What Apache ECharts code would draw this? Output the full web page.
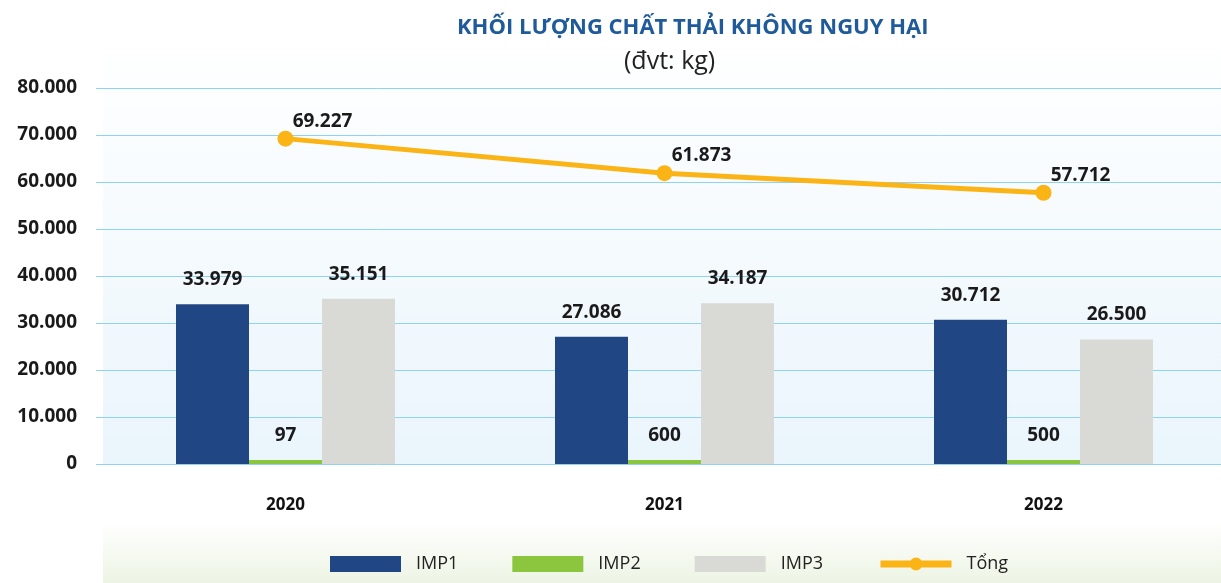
<!DOCTYPE html>
<html>
<head>
<meta charset="utf-8">
<style>
 html, body { margin: 0; padding: 0; background: #ffffff; }
 #chart { width: 1221px; height: 583px; }
</style>
<script src="https://cdn.jsdelivr.net/npm/echarts@6/dist/echarts.min.js"></script>
</head>
<body>
<div id="chart"></div>
<script>
 // du lieu
 var years = ['2020', '2021', '2022'];
 var imp1 = [33979, 27086, 30712];
 var imp2 = [97, 600, 500];
 var imp3 = [35151, 34187, 26500];
 var tong = [69227, 61873, 57712];

 var fmt = function (v) {
     return String(v).replace(/\B(?=(\d{3})+(?!\d))/g, '.');
 };

 var barLabel = {
     show: true,
     position: 'top',
     distance: 15,
     color: '#1a1a1a',
     fontFamily: 'Open Sans',
     fontWeight: 'bold',
     fontSize: 19,
     formatter: function (d) { return fmt(d.value); }
 };

 var chart = echarts.init(document.getElementById('chart'));
 chart.setOption({
     animation: false,
     graphic: [{
         type: 'rect',
         z: -10,
         shape: {x: 103, y: 36, width: 1118, height: 428},
         style: {
             fill: new echarts.graphic.LinearGradient(0, 0, 0, 1, [
                 {offset: 0, color: '#ffffff'},
                 {offset: 1, color: '#eaf5fc'}
             ])
         }
     }, {
         type: 'rect',
         z: -10,
         shape: {x: 103, y: 522, width: 1118, height: 61},
         style: {
             fill: new echarts.graphic.LinearGradient(0, 0, 0, 1, [
                 {offset: 0, color: '#ffffff'},
                 {offset: 1, color: '#edf4e4'}
             ])
         }
     }],
     title: [{
         text: 'KHỐI LƯỢNG CHẤT THẢI KHÔNG NGUY HẠI',
         left: 452,
         top: 12,
         textStyle: {
             color: '#1f5a9a',
             fontFamily: 'Open Sans',
             fontWeight: 'bold',
             fontSize: 22
         }
     }, {
         text: '(đvt: kg)',
         left: 619,
         top: 44,
         textStyle: {
             color: '#222222',
             fontFamily: 'Open Sans',
             fontWeight: 'normal',
             fontSize: 25
         }
     }],
     legend: {
         left: 325,
         top: 550,
         itemWidth: 71,
         itemHeight: 16,
         itemGap: 54,
         textStyle: {
             color: '#222222',
             fontFamily: 'Open Sans',
             fontSize: 18,
             padding: [0, 0, 0, 10]
         },
         data: [
             {name: 'IMP1', icon: 'rect'},
             {name: 'IMP2', icon: 'rect'},
             {name: 'IMP3', icon: 'rect'},
             {name: 'Tổng', lineStyle: {width: 7}}
         ]
     },
     grid: {
         left: 96,
         width: 1137,
         top: 88,
         bottom: 119,
         outerBoundsMode: 'none'
     },
     xAxis: {
         type: 'category',
         data: years,
         axisLine: {show: false},
         axisTick: {show: false},
         axisLabel: {
             margin: 33,
             color: '#111111',
             fontFamily: 'Open Sans',
             fontWeight: 'bold',
             fontSize: 17
         }
     },
     yAxis: {
         type: 'value',
         min: 0,
         max: 80000,
         interval: 10000,
         axisLine: {show: false},
         axisTick: {show: false},
         splitLine: {lineStyle: {color: '#8fd3f2', width: 1}},
         axisLabel: {
             margin: 19,
             color: '#1a1a1a',
             fontFamily: 'Open Sans',
             fontWeight: 'bold',
             fontSize: 19,
             formatter: fmt
         }
     },
     series: [{
         name: 'IMP1',
         type: 'bar',
         data: imp1,
         barWidth: 73,
         barGap: '0%',
         itemStyle: {color: '#204683'},
         label: barLabel
     }, {
         name: 'IMP2',
         type: 'bar',
         data: imp2,
         barWidth: 73,
         barGap: '0%',
         barMinHeight: 4,
         itemStyle: {color: '#8cc63f'},
         label: barLabel
     }, {
         name: 'IMP3',
         type: 'bar',
         data: imp3,
         barWidth: 73,
         barGap: '0%',
         itemStyle: {color: '#d9d9d6'},
         label: barLabel
     }, {
         name: 'Tổng',
         type: 'line',
         data: tong,
         symbol: 'circle',
         symbolSize: 16,
         lineStyle: {color: '#fbb416', width: 5},
         itemStyle: {color: '#fbb416'},
         label: {
             show: true,
             position: 'top',
             offset: [37, 5],
             color: '#1a1a1a',
             fontFamily: 'Open Sans',
             fontWeight: 'bold',
             fontSize: 19,
             formatter: function (d) { return fmt(d.value); }
         }
     }]
 });
</script>
</body>
</html>
